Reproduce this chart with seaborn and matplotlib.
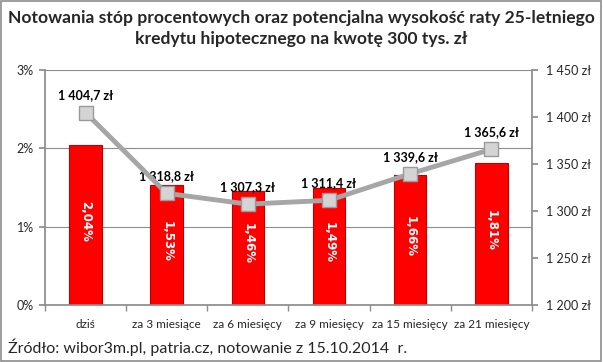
import matplotlib
matplotlib.use("Agg")
import numpy as np
import pandas as pd
import matplotlib.pyplot as plt
import seaborn as sns
from matplotlib.patches import Rectangle
from matplotlib.ticker import FuncFormatter, MultipleLocator

# ── Data ──────────────────────────────────────────────────────────────────────
CATEGORIES = ["dziś", "za 3 miesiące", "za 6 miesięcy", "za 9 miesięcy",
              "za 15 miesięcy", "za 21 miesięcy"]
RATES = [2.04, 1.53, 1.46, 1.49, 1.66, 1.81]               # WIBOR, %
INSTALMENTS = [1404.7, 1318.8, 1307.3, 1311.4, 1339.6, 1365.6]  # rata, zł

TITLE = ("Notowania stóp procentowych oraz potencjalna wysokość raty 25-letniego\n"
         "kredytu hipotecznego na kwotę 300 tys. zł")
SOURCE = "Źródło: wibor3m.pl, patria.cz, notowanie z 15.10.2014  r."


def pl_money(v, decimals=1):
    s = f"{v:,.{decimals}f}".replace(",", " ").replace(".", ",")
    return f"{s} zł"


# ── Plot ──────────────────────────────────────────────────────────────────────
sns.set_theme(style="white")
plt.rcParams["font.family"] = ["Lato", "DejaVu Sans"]

df = pd.DataFrame({"okres": CATEGORIES, "stopa": RATES, "rata": INSTALMENTS})

fig = plt.figure(figsize=(6.03, 3.62), dpi=100)
ax = fig.add_axes([0.0746, 0.1575, 0.8074, 0.649])

sns.barplot(data=df, x="okres", y="stopa", ax=ax, color="#FF0000",
            width=0.4, saturation=1, edgecolor="#C00000", linewidth=0.8)

ax.set_ylim(0, 3)
ax.set_xlim(-0.5, len(CATEGORIES) - 0.5)
ax.yaxis.set_major_locator(MultipleLocator(1))
ax.yaxis.set_major_formatter(FuncFormatter(lambda v, _: f"{v:.0f}%"))
ax.grid(axis="y", color="#8C8C8C", linewidth=0.8)
ax.set_axisbelow(True)
ax.set_xlabel("")
ax.set_ylabel("")
ax.tick_params(axis="y", labelsize=9, length=4, direction="out", left=True,
               color="#8C8C8C", pad=4)
ax.tick_params(axis="x", labelsize=8.5, length=0, pad=10)
# category separators on the bottom axis
ax.set_xticks(np.arange(-0.5, len(CATEGORIES)), minor=True)
ax.tick_params(axis="x", which="minor", length=4, color="#8C8C8C", bottom=True)

for s in ["top", "right"]:
    ax.spines[s].set_visible(False)
for s in ["left", "bottom"]:
    ax.spines[s].set_color("#8C8C8C")

for i, r in enumerate(RATES):
    ax.text(i, r / 2 + 0.05, f"{r:.2f}%".replace(".", ","), rotation=270,
            ha="center", va="center", color="white", fontsize=8.5,
            fontweight="bold", family="DejaVu Sans")

ax2 = ax.twinx()
sns.lineplot(x=np.arange(len(CATEGORIES)), y=INSTALMENTS, ax=ax2,
             color="#A6A6A6", linewidth=3.5, marker="s", markersize=10,
             markerfacecolor="#D4D4D4", markeredgecolor="#9A9A9A",
             markeredgewidth=1, zorder=5)
ax2.set_ylim(1200, 1450)
ax2.yaxis.set_major_locator(MultipleLocator(50))
ax2.yaxis.set_major_formatter(FuncFormatter(lambda v, _: pl_money(v, 0)))
ax2.tick_params(axis="y", labelsize=9, length=4, direction="out", right=True,
                color="#8C8C8C", pad=6)
ax2.grid(False)
for s in ["top", "left", "bottom"]:
    ax2.spines[s].set_visible(False)
ax2.spines["right"].set_color("#8C8C8C")

for i, v in enumerate(INSTALMENTS):
    ax2.annotate(pl_money(v), xy=(i, v), xytext=(0, 8),
                 textcoords="offset points", ha="center", va="bottom",
                 fontsize=9, fontweight="bold", color="black")

fig.text(0.5, 0.972, TITLE, ha="center", va="top", fontsize=12.6,
         fontweight="bold", linespacing=1.4)
fig.text(0.013, 0.04, SOURCE, ha="left", va="center", fontsize=11.5)

fig.patches.append(Rectangle((0.002, 0.003), 0.995, 0.994, transform=fig.transFigure,
                             fill=False, edgecolor="#8C8C8C", linewidth=1.2))

fig.savefig("out.png", dpi=100)
